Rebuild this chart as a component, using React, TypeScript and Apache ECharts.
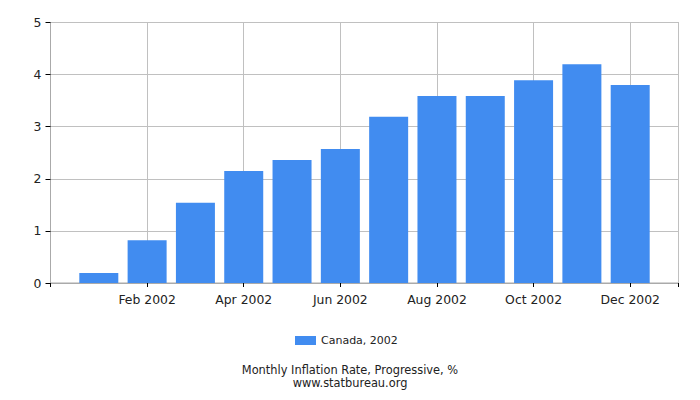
import React, { useEffect, useRef } from "react";
import * as echarts from "echarts";

const categories = [
  "Jan 2002", "Feb 2002", "Mar 2002", "Apr 2002", "May 2002", "Jun 2002",
  "Jul 2002", "Aug 2002", "Sep 2002", "Oct 2002", "Nov 2002", "Dec 2002",
];
const values = [0.19, 0.82, 1.54, 2.15, 2.36, 2.57, 3.19, 3.59, 3.59, 3.89, 4.2, 3.8];
const yTicks = [0, 1, 2, 3, 4, 5];
const seriesName = "Canada, 2002";
const titleLines = ["Monthly Inflation Rate, Progressive, %", "www.statbureau.org"];

export default function App() {
  const ref = useRef<HTMLDivElement>(null);
  useEffect(() => {
    if (!ref.current) return;
    const chart = echarts.init(ref.current, undefined, { renderer: "svg" });
    const font = "DejaVu Sans";
    const titleStyle = { fontSize: 11.4, fontWeight: "normal", color: "#222", lineHeight: 13, fontFamily: font };
    chart.setOption({
      animation: false,
      textStyle: { fontFamily: font },
      title: [
        { text: titleLines[0], left: "center", top: 363, padding: 0, textStyle: titleStyle },
        { text: titleLines[1], left: "center", top: 376, padding: 0, textStyle: titleStyle },
      ],
      legend: {
        data: [seriesName],
        left: 295,
        top: 335,
        padding: 0,
        icon: "rect",
        itemWidth: 21,
        itemHeight: 9,
        itemGap: 5,
        textStyle: { fontSize: 11, color: "#222", fontFamily: font },
      },
      grid: {
        left: 50.5,
        right: 21.5,
        top: 22.5,
        bottom: 117,
        show: true,
        borderColor: "#aaa",
        borderWidth: 1,
        containLabel: false,
      },
      xAxis: {
        type: "value",
        min: 0,
        max: categories.length + 1,
        interval: 2,
        axisLine: { show: true, lineStyle: { color: "#aaa" } },
        axisTick: { show: true, length: 4, lineStyle: { color: "#000" } },
        splitLine: { show: true, lineStyle: { color: "#c0c0c0" } },
        axisLabel: {
          fontSize: 12.4,
          color: "#222",
          margin: 10,
          fontFamily: font,
          formatter: (v: number) => categories[v - 1] ?? "",
        },
      },
      yAxis: {
        type: "value",
        min: yTicks[0],
        max: yTicks[yTicks.length - 1],
        interval: 1,
        axisLine: { show: true, lineStyle: { color: "#aaa" } },
        axisTick: { show: true, length: 5, lineStyle: { color: "#000" } },
        splitLine: { show: true, lineStyle: { color: "#c0c0c0" } },
        axisLabel: { fontSize: 12.4, color: "#222", margin: 9, fontFamily: font },
      },
      series: [
        {
          name: seriesName,
          type: "bar",
          barWidth: 39,
          itemStyle: { color: "#418cf0" },
          data: values.map((v, i) => [i + 1, v]),
        },
      ],
    });
    return () => chart.dispose();
  }, []);
  return <div ref={ref} style={{ width: 700, height: 400, margin: -8 }} />;
}
